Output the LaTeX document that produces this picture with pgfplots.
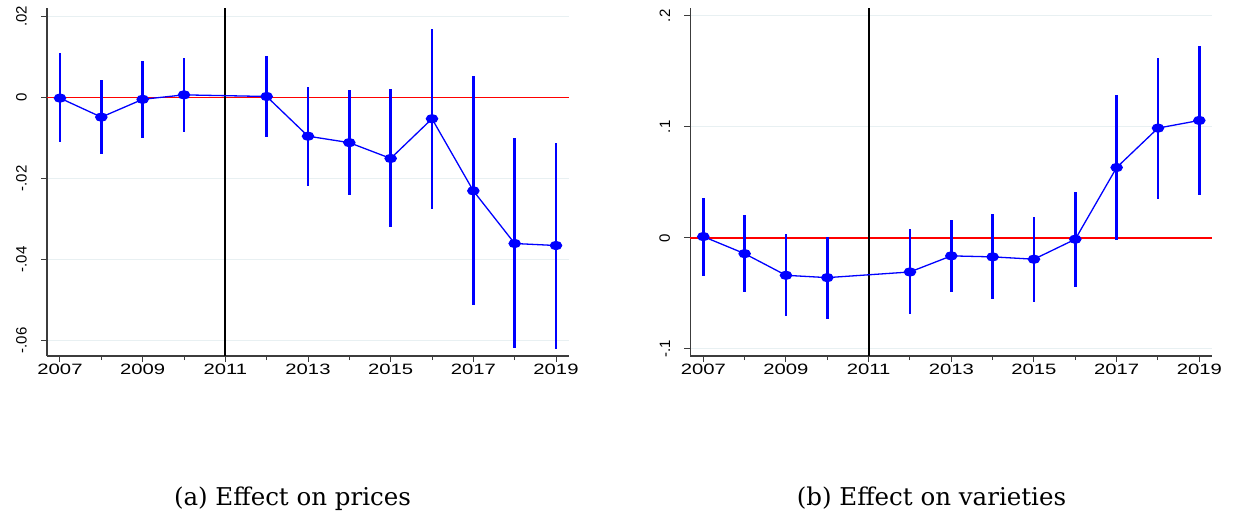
\documentclass[border=0pt]{standalone}
\usepackage{fontspec}
\usepackage{graphicx}
\usepackage{pgfplots}
\usepackage{pgfplotstable}
\pgfplotsset{compat=1.18}
\newfontfamily\tickfont{Liberation Sans}
\newfontfamily\capfont{DejaVu Serif}
\definecolor{gridc}{RGB}{232,240,242}
\definecolor{axc}{RGB}{60,60,60}
\definecolor{zred}{RGB}{255,0,0}
\definecolor{sblue}{RGB}{0,0,255}

\pgfplotstableread{
year b lo hi
2007 -0.0002 -0.0111 0.0109
2008 -0.0049 -0.0141 0.0042
2009 -0.0005 -0.0100 0.0090
2010 0.0006 -0.0086 0.0097
2012 0.0002 -0.0097 0.0102
2013 -0.0096 -0.0218 0.0026
2014 -0.0112 -0.0242 0.0018
2015 -0.0151 -0.0320 0.0020
2016 -0.0053 -0.0276 0.0169
2017 -0.0231 -0.0514 0.0052
2018 -0.0361 -0.0620 -0.0100
2019 -0.0366 -0.0621 -0.0112
}\prices

\pgfplotstableread{
year b lo hi
2007 0.0012 -0.0340 0.0361
2008 -0.0142 -0.0490 0.0207
2009 -0.0337 -0.0706 0.0036
2010 -0.0358 -0.0727 0.0009
2012 -0.0307 -0.0688 0.0078
2013 -0.0162 -0.0490 0.0165
2014 -0.0171 -0.0553 0.0214
2015 -0.0192 -0.0574 0.0189
2016 -0.0012 -0.0439 0.0412
2017 0.0634 -0.0021 0.1289
2018 0.0989 0.0354 0.1623
2019 0.1058 0.0388 0.1725
}\varieties

\newcommand{\xl}[1]{\scalebox{1.35}[1]{#1}}

\pgfplotsset{
  panel/.style={
    scale only axis, width=522pt, height=348pt, anchor=south west,
    xmin=2006.6855, xmax=2019.3145,
    axis x line*=bottom, axis y line*=left,
    axis line style={-, axc, line width=1.2pt},
    tick align=outside, major tick length=6pt, minor tick length=4pt,
    tick style={axc, line width=1pt},
    scaled y ticks=false, scaled x ticks=false,
    xtick={2007,2009,2011,2013,2015,2017,2019},
    minor xtick={2008,2010,2012,2014,2016,2018},
    xticklabels={\xl{2007},\xl{2009},\xl{2011},\xl{2013},\xl{2015},\xl{2017},\xl{2019}},
    xticklabel style={font=\tickfont\fontsize{15}{15}\selectfont, anchor=north, inner sep=0pt, yshift=-2pt},
    yticklabel style={font=\tickfont\fontsize{15}{15}\selectfont, rotate=90, anchor=south, inner sep=0pt, yshift=14pt},
    ymajorgrids, major grid style={gridc, line width=1pt},
    clip=false,
  },
  est/.style={draw=sblue, line width=1.3pt, mark=*, mark size=4pt,
    mark options={xscale=1.4, solid, fill=sblue, draw=sblue},
    error bars/.cd, y dir=both, y explicit, error mark=none,
    error bar style={line width=2.4pt, draw=sblue, solid}},
  zline/.style={draw=zred, line width=1.5pt, mark=none},
  vline/.style={draw=black, line width=2pt, mark=none},
}

\begin{document}
\begin{tikzpicture}
\path[use as bounding box] (0,0) rectangle (1235pt,515pt);

\begin{axis}[panel, at={(47pt,159pt)},
  ymin=-0.06388, ymax=0.02205,
  ytick={-0.06,-0.04,-0.02,0,0.02},
  yticklabels={-.06,-.04,-.02,0,.02}]
\addplot[zline] coordinates {(2006.6855,0) (2019.3145,0)};
\addplot[vline] coordinates {(2011,-0.06388) (2011,0.02205)};
\addplot[est] table[x=year, y=b,
  y error plus expr=\thisrow{hi}-\thisrow{b},
  y error minus expr=\thisrow{b}-\thisrow{lo}] {\prices};
\end{axis}

\begin{axis}[panel, at={(690.3pt,159pt)},
  ymin=-0.1064, ymax=0.2071,
  ytick={-0.1,0,0.1,0.2},
  yticklabels={-.1,0,.1,.2}]
\addplot[zline] coordinates {(2006.6855,0) (2019.3145,0)};
\addplot[vline] coordinates {(2011,-0.1064) (2011,0.2071)};
\addplot[est] table[x=year, y=b,
  y error plus expr=\thisrow{hi}-\thisrow{b},
  y error minus expr=\thisrow{b}-\thisrow{lo}] {\varieties};
\end{axis}

\node[font=\capfont\fontsize{24.5}{28}\selectfont, anchor=base] at (292.5pt,10pt) {(a) Effect on prices};
\node[font=\capfont\fontsize{24.5}{28}\selectfont, anchor=base] at (931.5pt,10pt) {(b) Effect on varieties};
\end{tikzpicture}
\end{document}
